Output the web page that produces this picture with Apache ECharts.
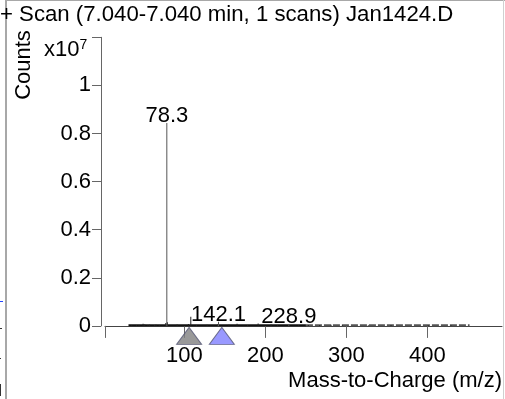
<!DOCTYPE html>
<html><head><meta charset="utf-8">
<script src="https://cdn.jsdelivr.net/npm/echarts@6/dist/echarts.min.js"></script>
<style>html,body{margin:0;padding:0;background:#fff}#c{width:505px;height:399px}</style>
</head><body><div id="c"></div>
<script>
// Labelled peaks (m/z, counts)
const labeledMz = [78.3, 142.1, 228.9];
const labeledCounts = [8440000, 170000, 80000];
// Small unlabelled peaks (m/z, counts)
const noiseMz = [35, 41, 44, 49, 51, 55, 57, 63, 65, 69, 77, 79, 91, 105, 107.9, 115, 128, 141, 155, 165, 178, 191, 207, 215, 241, 253, 267, 281, 295, 327, 355, 401, 429];
const noiseCounts = [30000, 40000, 35000, 90000, 60000, 40000, 50000, 35000, 45000, 40000, 120000, 150000, 60000, 80000, 380000, 40000, 50000, 60000, 50000, 90000, 40000, 100000, 60000, 40000, 30000, 40000, 35000, 45000, 30000, 30000, 40000, 30000, 30000];
// Noise floor (dense region, sparse region)
const floorDenseMz = [31, 250];
const floorDenseCounts = [25000, 25000];
const floorSparseMz = [250, 452];
const floorSparseCounts = [25000, 25000];
// Precursor markers
const markerMz = [105.8, 146.2];
// Axis ticks
const xTickValues = [2, 100, 200, 300, 400];
const xLabelValues = [100, 200, 300, 400];
const yTickLabels = ['0', '0.2', '0.4', '0.6', '0.8', '1', ''];

const FONT = 'Liberation Sans';
const chart = echarts.init(document.getElementById('c'), null, {renderer: 'canvas'});
const zip = (a, b) => a.map((v, i) => [v, b[i]]);

chart.setOption({
  animation: false,
  title: {
    text: '+ Scan (7.040-7.040 min, 1 scans) Jan1424.D',
    left: 0, top: 4, padding: 0,
    textStyle: {fontFamily: FONT, fontSize: 22.2, fontWeight: 'normal', color: '#000'}
  },
  grid: {left: 105, right: 3, top: 37.3, bottom: 73.1, containLabel: false},
  xAxis: {
    type: 'value', min: 2, max: 492, offset: 2,
    name: 'Mass-to-Charge (m/z)', nameLocation: 'end', nameGap: 0,
    nameTextStyle: {fontFamily: FONT, fontSize: 22, color: '#000', align: 'right', verticalAlign: 'top', padding: [44, 0, 0, 0]},
    axisLine: {lineStyle: {color: '#444', width: 1}},
    axisTick: {length: 12, lineStyle: {color: '#666'}, customValues: xTickValues},
    axisLabel: {fontFamily: FONT, fontSize: 22, color: '#000', margin: 17, customValues: xLabelValues},
    splitLine: {show: false}
  },
  yAxis: {
    type: 'value', min: 0, max: 12000000, interval: 2000000, offset: 4,
    axisLine: {show: true, lineStyle: {color: '#666', width: 1}},
    axisTick: {show: true, length: 9, lineStyle: {color: '#666'}},
    axisLabel: {fontFamily: FONT, fontSize: 22, color: '#000', margin: 10,
      formatter: v => yTickLabels[Math.round(v / 2000000)]},
    splitLine: {show: false}
  },
  series: [
    {type: 'line', data: zip(floorDenseMz, floorDenseCounts), symbol: 'none', silent: true,
      lineStyle: {color: '#111', width: 2}, z: 1},
    {type: 'line', data: zip(floorSparseMz, floorSparseCounts), symbol: 'none', silent: true,
      lineStyle: {color: '#555', width: 2, type: [7, 2]}, z: 1},
    {type: 'bar', data: zip(noiseMz, noiseCounts), barWidth: 1, barGap: '-100%',
      itemStyle: {color: '#222'}, silent: true},
    {type: 'bar', data: zip(labeledMz, labeledCounts), barWidth: 1, barGap: '-100%',
      itemStyle: {color: '#555'}, silent: true,
      label: {show: true, position: 'top', distance: -4, fontFamily: FONT, fontSize: 22, color: '#000',
        formatter: p => p.value[0].toFixed(1)}},
    {type: 'scatter', data: markerMz.map(m => [m, 0]), symbol: 'triangle', symbolSize: [25, 17],
      symbolOffset: [0, 10], clip: false, silent: true, z: 5,
      itemStyle: {color: p => ['#7f7f7f', '#8080ff'][p.dataIndex],
        borderColor: p => ['#222', '#0000ff'][p.dataIndex], borderWidth: 1}}
  ],
  graphic: [
    {type: 'line', shape: {x1: 6, y1: 0, x2: 6, y2: 399}, style: {stroke: '#a8a8a8', lineWidth: 2}, silent: true},
    {type: 'line', shape: {x1: 5, y1: 0.5, x2: 505, y2: 0.5}, style: {stroke: '#a8a8a8', lineWidth: 1}, silent: true},
    {type: 'line', shape: {x1: 503.5, y1: 0, x2: 503.5, y2: 399}, style: {stroke: '#d0d0d0', lineWidth: 1}, silent: true},
    {type: 'line', shape: {x1: 0, y1: 301.5, x2: 3, y2: 301.5}, style: {stroke: '#2244ff', lineWidth: 1}, silent: true},
    {type: 'line', shape: {x1: 0, y1: 328.5, x2: 2, y2: 328.5}, style: {stroke: '#333', lineWidth: 1}, silent: true},
    {type: 'line', shape: {x1: 0, y1: 358.5, x2: 1, y2: 358.5}, style: {stroke: '#333', lineWidth: 1}, silent: true},
    {type: 'line', shape: {x1: 0.5, y1: 384, x2: 0.5, y2: 396}, style: {stroke: '#333', lineWidth: 1}, silent: true},
    {type: 'text', x: 24, y: 65, rotation: Math.PI / 2, silent: true,
      style: {text: 'Counts', font: '22px ' + FONT, fill: '#000', align: 'center', verticalAlign: 'middle'}},
    {type: 'text', x: 44, y: 62, silent: true,
      style: {text: '{a|x10}{b|7}', fill: '#000', align: 'left', verticalAlign: 'bottom',
        rich: {a: {fontFamily: FONT, fontSize: 22, fill: '#000'},
               b: {fontFamily: FONT, fontSize: 14, fill: '#000', verticalAlign: 'top', padding: [0, 0, 10, 0]}}}}
  ]
});
</script></body></html>
